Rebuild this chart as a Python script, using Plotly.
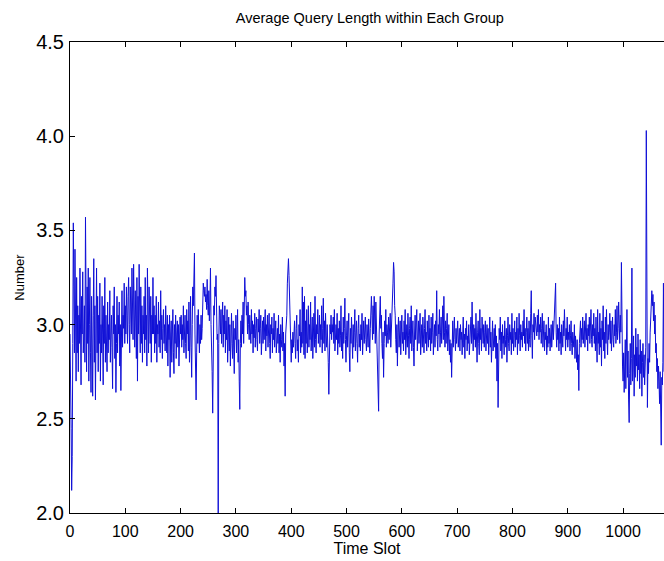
import plotly.graph_objects as go

title_text = "Average Query Length within Each Group"
x_label = "Time Slot"
y_label = "Number"
x_ticks = [0, 100, 200, 300, 400, 500, 600, 700, 800, 900, 1000]
y_ticks = [2.0, 2.5, 3.0, 3.5, 4.0, 4.5]

# Average query length per time slot (slots 0..1074)
avg_len = [
    # 0
    2.95, 2.80, 2.45, 2.12, 2.30, 2.90, 3.54, 3.20, 2.85, 3.40, 2.95, 2.70, 3.25, 2.85, 3.10, 2.75, 3.05, 2.90, 3.30, 2.80, 2.68, 3.15, 2.95, 3.28, 2.85,
    # 25
    2.95, 3.10, 2.80, 3.57, 3.05, 2.75, 3.20, 2.90, 3.30, 2.70, 3.00, 3.25, 2.85, 2.64, 3.15, 2.95, 2.62, 3.05, 3.35, 2.80, 3.10, 2.60, 3.00, 3.30, 2.85,
    # 50
    3.15, 2.75, 3.05, 2.90, 3.22, 2.70, 3.00, 2.85, 3.15, 2.95, 2.68, 3.10, 2.90, 3.25, 2.80, 3.05, 2.95, 2.75, 3.12, 2.85, 3.00, 2.92, 3.18, 2.80, 2.95,
    # 75
    3.05, 2.88, 2.66, 3.10, 2.95, 3.20, 2.82, 3.00, 2.64, 2.90, 3.15, 2.85, 3.05, 2.95, 3.12, 2.78, 3.00, 2.65, 2.92, 3.18, 2.88, 3.05, 2.98, 3.22, 2.90,
    # 100
    3.10, 2.95, 3.20, 3.05, 2.90, 3.15, 3.25, 3.00, 2.85, 3.20, 3.08, 2.95, 3.30, 3.10, 2.92, 3.32, 3.05, 2.88, 3.18, 3.00, 2.82, 3.25, 2.70, 3.15, 2.95,
    # 125
    3.32, 3.00, 2.85, 3.20, 2.90, 3.10, 2.80, 3.05, 2.95, 3.15, 2.85, 3.25, 2.92, 3.05, 2.78, 3.30, 3.00, 2.85, 3.20, 3.10, 2.90, 3.15, 2.80, 3.05, 2.95,
    # 150
    3.25, 2.95, 3.10, 2.85, 3.05, 2.90, 3.15, 2.80, 3.00, 2.95, 3.12, 2.88, 3.02, 2.85, 3.18, 2.92, 3.05, 2.82, 2.98, 3.08, 2.90, 3.00, 2.86, 3.10, 2.95,
    # 175
    2.85, 3.05, 2.78, 3.00, 2.92, 3.05, 2.72, 2.95, 3.02, 2.80, 2.98, 3.08, 2.85, 2.74, 3.00, 2.90, 3.05, 2.82, 2.95, 3.02, 2.88, 3.00, 2.78, 2.96, 3.04,
    # 200
    2.95, 3.05, 2.88, 3.00, 2.92, 3.10, 2.85, 2.98, 3.05, 2.90, 2.82, 3.08, 2.95, 3.02, 2.86, 3.12, 2.80, 2.94, 3.15, 2.88, 2.72, 3.00, 3.20, 3.10, 3.28,
    # 225
    3.38, 2.95, 2.80, 2.60, 2.85, 3.05, 2.90, 3.08, 2.95, 2.85, 3.00, 2.90, 3.05, 2.92, 2.98, 3.10, 3.22, 3.18, 3.15, 3.20, 3.12, 3.16, 3.08, 3.24, 3.10,
    # 250
    3.05, 3.18, 3.02, 3.12, 3.30, 3.00, 2.90, 2.75, 2.53, 2.95, 3.10, 3.05, 3.20, 3.15, 3.26, 3.05, 2.92, 2.95, 1.98, 2.90, 3.10, 3.05, 2.95, 3.08, 2.90,
    # 275
    3.00, 3.12, 2.88, 3.05, 2.95, 3.10, 2.85, 3.02, 2.92, 3.08, 2.80, 2.96, 3.04, 2.86, 3.00, 2.78, 2.95, 3.06, 2.90, 2.82, 3.02, 2.88, 2.74, 2.98, 2.92,
    # 300
    3.05, 2.85, 2.95, 3.08, 2.80, 2.92, 2.70, 2.55, 2.90, 3.02, 2.88, 3.05, 2.95, 3.12, 2.90, 3.20, 3.25, 3.15, 3.18, 3.05, 3.10, 2.95, 3.12, 3.00, 2.92,
    # 325
    3.05, 2.98, 2.90, 3.08, 2.95, 3.02, 2.85, 3.00, 2.93, 3.06, 2.88, 2.98, 3.04, 2.92, 2.86, 3.03, 2.96, 3.08, 2.90, 2.98, 3.05, 2.84, 2.95, 3.02, 2.90,
    # 350
    3.04, 2.92, 2.98, 3.08, 2.86, 3.00, 2.94, 3.05, 2.88, 2.97, 3.06, 2.90, 2.82, 3.00, 2.95, 3.04, 2.85, 2.98, 2.92, 3.06, 2.88, 2.96, 3.02, 2.85, 2.94,
    # 375
    2.98, 2.90, 3.05, 2.85, 2.95, 2.80, 3.00, 2.92, 2.88, 3.04, 2.86, 2.96, 2.78, 2.90, 2.62, 2.95, 3.00, 3.05, 3.22, 3.28, 3.35, 3.26, 3.15, 3.12, 2.88,
    # 400
    2.80, 2.92, 2.85, 2.96, 2.88, 2.95, 3.02, 2.90, 2.82, 2.98, 3.05, 2.86, 2.92, 2.80, 3.00, 2.94, 3.08, 2.85, 2.96, 2.88, 3.20, 2.90, 3.12, 2.84, 3.15,
    # 425
    2.82, 3.02, 2.90, 3.08, 2.85, 2.95, 3.10, 2.88, 3.00, 2.92, 3.12, 2.86, 2.96, 3.04, 2.82, 2.94, 3.06, 2.88, 3.15, 2.92, 2.85, 3.00, 2.95, 3.08, 2.90,
    # 450
    2.96, 3.05, 2.88, 3.00, 2.92, 3.10, 2.85, 2.98, 3.14, 2.90, 3.02, 2.86, 3.06, 2.94, 2.88, 3.00, 2.92, 2.80, 2.63, 2.90, 3.00, 2.95, 3.05, 2.92, 3.00,
    # 475
    2.96, 3.04, 2.90, 3.08, 2.86, 2.95, 3.00, 2.92, 3.06, 2.84, 2.98, 2.90, 3.02, 2.88, 2.94, 3.10, 2.86, 2.96, 2.82, 3.04, 2.90, 2.98, 3.14, 2.92, 2.80,
    # 500
    2.94, 3.02, 2.88, 2.96, 3.06, 2.85, 2.75, 2.98, 2.90, 3.04, 2.92, 2.82, 3.00, 2.88, 2.96, 3.08, 2.86, 2.94, 3.02, 2.90, 2.80, 2.98, 3.05, 2.88, 2.95,
    # 525
    2.86, 3.00, 2.92, 3.06, 2.84, 2.96, 3.02, 2.90, 2.98, 3.04, 2.92, 2.86, 3.00, 2.95, 2.88, 3.03, 2.93, 2.85, 2.98, 3.08, 3.15, 3.05, 2.92, 3.10, 2.95,
    # 550
    3.15, 3.05, 2.90, 3.12, 3.00, 2.95, 2.85, 2.70, 2.54, 2.95, 3.10, 3.15, 2.98, 3.05, 2.90, 2.82, 2.96, 2.72, 2.90, 3.02, 2.94, 3.08, 2.88, 3.00, 2.96,
    # 575
    2.90, 3.04, 2.92, 2.98, 3.06, 2.88, 2.95, 3.02, 3.18, 3.22, 3.33, 3.28, 3.10, 3.05, 2.92, 2.85, 3.00, 2.78, 2.96, 3.04, 2.88, 2.95, 3.02, 2.84, 2.98,
    # 600
    3.05, 2.90, 2.96, 2.86, 3.02, 2.92, 3.08, 2.84, 2.95, 3.00, 2.88, 3.06, 2.94, 2.82, 2.98, 3.04, 2.90, 3.10, 2.86, 2.96, 3.02, 2.88, 2.78, 2.95, 3.05,
    # 625
    2.92, 2.98, 3.08, 2.86, 2.94, 3.02, 2.90, 2.96, 3.06, 2.84, 2.92, 3.00, 2.88, 3.04, 2.95, 2.85, 2.98, 3.08, 2.90, 2.96, 2.86, 3.02, 2.94, 2.88, 3.05,
    # 650
    2.92, 2.98, 2.86, 3.04, 2.90, 2.96, 3.06, 2.84, 2.95, 3.00, 2.88, 3.02, 2.94, 3.18, 2.92, 2.86, 3.00, 2.95, 3.08, 2.88, 2.96, 3.04, 2.90, 2.98, 3.10,
    # 675
    2.92, 3.15, 2.96, 2.88, 3.02, 2.90, 2.98, 3.06, 2.86, 2.94, 3.00, 2.84, 2.92, 2.80, 2.90, 2.72, 2.95, 3.02, 2.88, 2.96, 3.04, 2.92, 2.86, 2.98, 2.90,
    # 700
    2.96, 3.02, 2.88, 2.94, 2.98, 2.86, 3.00, 2.92, 2.96, 2.84, 2.90, 3.04, 2.88, 2.95, 2.82, 2.98, 2.92, 3.02, 2.86, 2.94, 2.90, 3.00, 2.84, 2.96, 2.92,
    # 725
    3.04, 2.90, 3.12, 2.95, 2.86, 3.00, 2.92, 2.98, 2.88, 3.06, 2.94, 2.80, 2.96, 3.02, 2.90, 2.84, 3.08, 2.92, 2.98, 2.86, 3.04, 2.94, 2.90, 3.00, 2.88,
    # 750
    2.96, 3.02, 2.86, 2.94, 3.00, 2.90, 2.98, 2.84, 2.92, 3.04, 2.88, 2.96, 2.80, 2.94, 3.02, 2.86, 2.92, 2.98, 2.88, 3.00, 2.82, 2.94, 2.70, 2.90, 2.56,
    # 775
    2.88, 2.98, 2.92, 3.04, 2.86, 2.96, 2.82, 3.00, 2.90, 2.94, 2.84, 3.02, 2.92, 2.88, 2.98, 2.80, 2.94, 3.04, 2.90, 2.86, 3.00, 2.92, 2.96, 2.84, 3.06,
    # 800
    2.90, 2.98, 2.86, 2.94, 3.02, 2.88, 2.96, 2.92, 3.04, 2.84, 2.98, 2.90, 3.06, 2.94, 2.86, 3.00, 2.92, 2.96, 2.88, 3.02, 2.94, 3.08, 2.90, 2.98, 2.86,
    # 825
    2.96, 3.04, 2.90, 2.98, 2.86, 3.02, 2.92, 2.88, 3.06, 3.18, 2.94, 2.82, 3.00, 2.96, 3.06, 2.92, 3.04, 2.98, 3.00, 2.94, 3.05, 2.96, 3.08, 2.92, 3.00,
    # 850
    2.96, 3.04, 2.90, 2.98, 3.06, 2.88, 2.94, 3.02, 2.86, 2.96, 2.92, 3.00, 2.84, 2.94, 2.88, 3.04, 2.90, 2.98, 2.86, 2.92, 3.00, 2.88, 2.96, 3.02, 2.92,
    # 875
    2.98, 3.06, 3.10, 3.22, 2.96, 2.88, 3.00, 2.92, 2.98, 2.86, 3.04, 2.90, 2.96, 2.84, 3.00, 2.92, 2.88, 3.02, 2.94, 3.08, 2.90, 2.86, 2.98, 2.92, 3.04,
    # 900
    2.88, 2.96, 2.92, 3.00, 2.86, 2.94, 3.02, 2.90, 2.84, 2.96, 2.92, 2.88, 3.00, 2.82, 2.94, 2.86, 2.80, 2.92, 2.76, 2.84, 2.65, 2.90, 2.96, 3.02, 2.88,
    # 925
    2.98, 2.92, 3.04, 2.90, 2.96, 3.02, 2.88, 2.94, 3.06, 2.92, 2.98, 2.86, 3.00, 2.94, 3.04, 2.90, 2.96, 3.08, 2.92, 2.88, 3.00, 2.94, 3.06, 2.90, 2.98,
    # 950
    2.86, 3.04, 2.92, 2.80, 3.08, 2.90, 2.96, 2.84, 3.06, 2.88, 2.98, 2.78, 3.02, 2.92, 3.10, 2.86, 2.96, 2.82, 3.04, 2.90, 3.08, 2.94, 2.84, 3.00, 2.92,
    # 975
    2.96, 3.06, 2.90, 3.02, 2.86, 2.98, 3.04, 2.92, 2.88, 3.00, 2.94, 3.08, 2.90, 2.96, 3.10, 2.92, 2.98, 3.12, 2.94, 2.90, 3.05, 2.96, 3.33, 2.90, 2.78,
    # 1000
    2.70, 2.85, 2.64, 2.78, 2.92, 2.66, 2.80, 3.08, 2.72, 2.86, 2.60, 2.48, 2.74, 2.90, 2.68, 2.82, 3.30, 2.70, 2.76, 2.94, 2.62, 2.84, 2.72, 2.98, 2.78,
    # 1025
    2.88, 2.70, 2.95, 2.76, 2.84, 2.66, 2.92, 2.74, 2.86, 2.62, 2.80, 2.90, 2.72, 2.84, 2.68, 2.78, 2.88, 4.03, 2.70, 2.56, 2.82, 2.74, 2.90, 2.80, 2.96,
    # 1050
    3.05, 3.15, 3.18, 3.10, 3.16, 3.02, 3.12, 2.95, 3.05, 2.85, 2.90, 2.75, 2.82, 2.66, 2.78, 2.70, 2.58, 2.75, 2.40, 2.36, 2.72, 2.68, 2.80, 3.22, 2.75,
]
time_slot = list(range(len(avg_len)))

fig = go.Figure()
fig.add_trace(go.Scatter(
    x=time_slot, y=avg_len, mode="lines",
    line=dict(color="rgb(15,15,215)", width=1),
    showlegend=False,
))

font_family = "Liberation Sans, Arial, sans-serif"
fig.update_layout(
    width=664, height=561,
    margin=dict(l=70, r=0, t=42, b=48),
    paper_bgcolor="white", plot_bgcolor="white",
    font=dict(family=font_family, color="black"),
    title=dict(text=title_text, x=0.557, xref="container", xanchor="center",
               y=0.968, yref="container", yanchor="middle",
               font=dict(size=14.5, family=font_family)),
)
fig.update_xaxes(
    range=[0, 1074], tickvals=x_ticks, ticktext=[str(v) for v in x_ticks],
    showgrid=False, zeroline=False, showline=True, linecolor="black", linewidth=1,
    mirror="ticks", ticks="inside", ticklen=5, tickcolor="black",
    ticklabelstandoff=4,
    tickfont=dict(size=16), title=dict(text=x_label, font=dict(size=16), standoff=2),
)
fig.update_yaxes(
    range=[2.0, 4.5], tickvals=y_ticks, ticktext=[f"{v:.1f}" for v in y_ticks],
    showgrid=False, zeroline=False, showline=True, linecolor="black", linewidth=1,
    ticks="inside", ticklen=5, tickcolor="black", ticklabelstandoff=1,
    tickfont=dict(size=20), title=dict(text=y_label, font=dict(size=13), standoff=8),
)

fig.write_html("out.html")
